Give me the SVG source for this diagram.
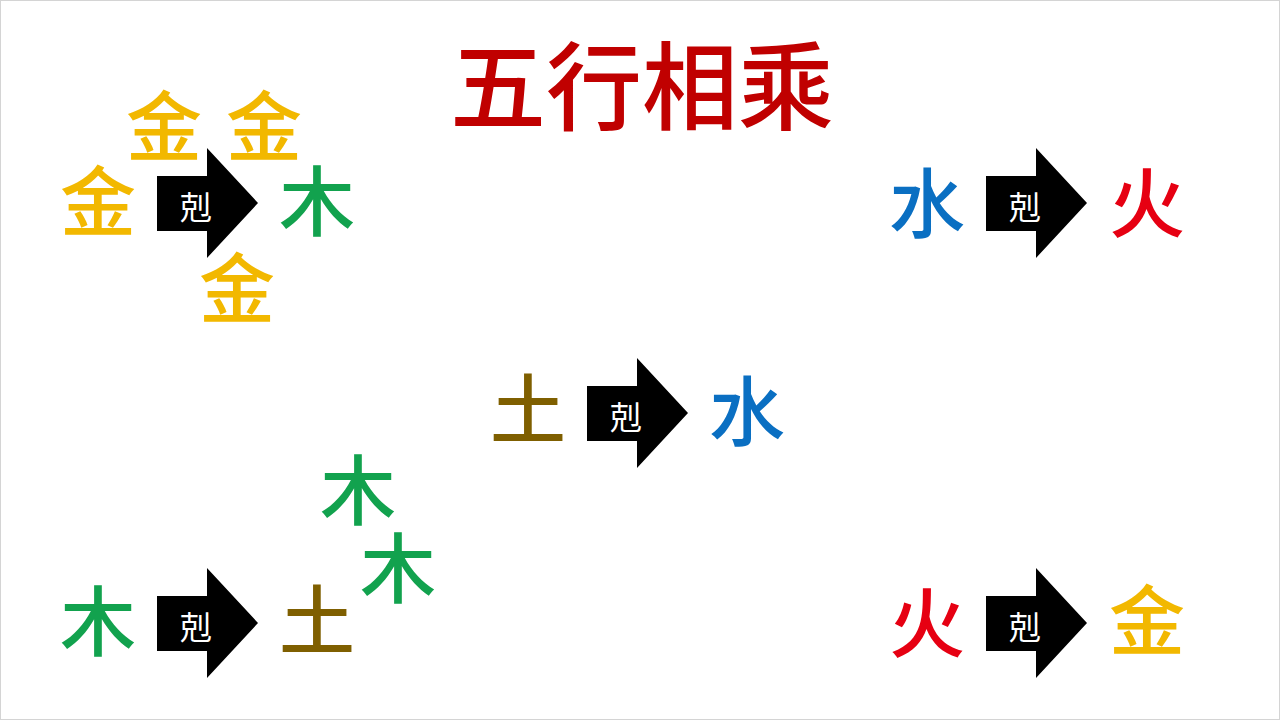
<svg xmlns="http://www.w3.org/2000/svg" width="1280" height="720" viewBox="0 0 1280 720">
<style>
.c{font-family:"Noto Sans CJK SC","Noto Sans CJK TC",sans-serif;font-size:76px;font-weight:500;text-anchor:middle}
.jin{fill:#F2B800}.mu{fill:#12A24E}.tu{fill:#7F5F00}.shui{fill:#0A6FC2}.huo{fill:#E60012}
.k{font-family:"Noto Sans CJK TC","Noto Sans CJK SC",serif;font-size:32px;fill:#fff;text-anchor:middle}
.title{font-family:"Noto Sans CJK SC",sans-serif;font-size:96px;font-weight:500;fill:#C00000;text-anchor:middle}
</style>
<defs>
<path id="arr" d="M0,-27 L50,-27 L50,-55 L101,0 L50,55 L50,28 L0,28 Z" fill="#000"/>
</defs>
<rect x="0.5" y="0.5" width="1279" height="719" fill="#fff" stroke="#d4d4d4" stroke-width="1"/>
<g id="title"><text class="title" x="642" y="122">五行相乘</text></g>
<g id="connectors">
<g id="arrow1"><use href="#arr" x="157" y="203"/><text class="k" x="196" y="219">剋</text></g>
<g id="arrow2"><use href="#arr" x="986" y="203"/><text class="k" x="1025" y="219">剋</text></g>
<g id="arrow3"><use href="#arr" x="587" y="413"/><text class="k" x="626" y="429">剋</text></g>
<g id="arrow4"><use href="#arr" x="157" y="623"/><text class="k" x="196" y="639">剋</text></g>
<g id="arrow5"><use href="#arr" x="986" y="623"/><text class="k" x="1025" y="639">剋</text></g>
</g>
<g id="jin1"><text class="c jin" x="98" y="230">金</text></g>
<g id="jin2"><text class="c jin" x="164" y="155">金</text></g>
<g id="jin3"><text class="c jin" x="264" y="155">金</text></g>
<g id="jin4"><text class="c jin" x="237" y="317">金</text></g>
<g id="mu1"><text class="c mu" x="317" y="230">木</text></g>
<g id="shui1"><text class="c shui" x="927" y="232">水</text></g>
<g id="huo1"><text class="c huo" x="1147" y="232">火</text></g>
<g id="tu1"><text class="c tu" x="528" y="438">土</text></g>
<g id="shui2"><text class="c shui" x="747" y="440">水</text></g>
<g id="mu2"><text class="c mu" x="98" y="650">木</text></g>
<g id="tu2"><text class="c tu" x="317" y="649">土</text></g>
<g id="mu3"><text class="c mu" x="358" y="519">木</text></g>
<g id="mu4"><text class="c mu" x="398" y="597">木</text></g>
<g id="huo2"><text class="c huo" x="927" y="652">火</text></g>
<g id="jin5"><text class="c jin" x="1147" y="649">金</text></g>
</svg>
